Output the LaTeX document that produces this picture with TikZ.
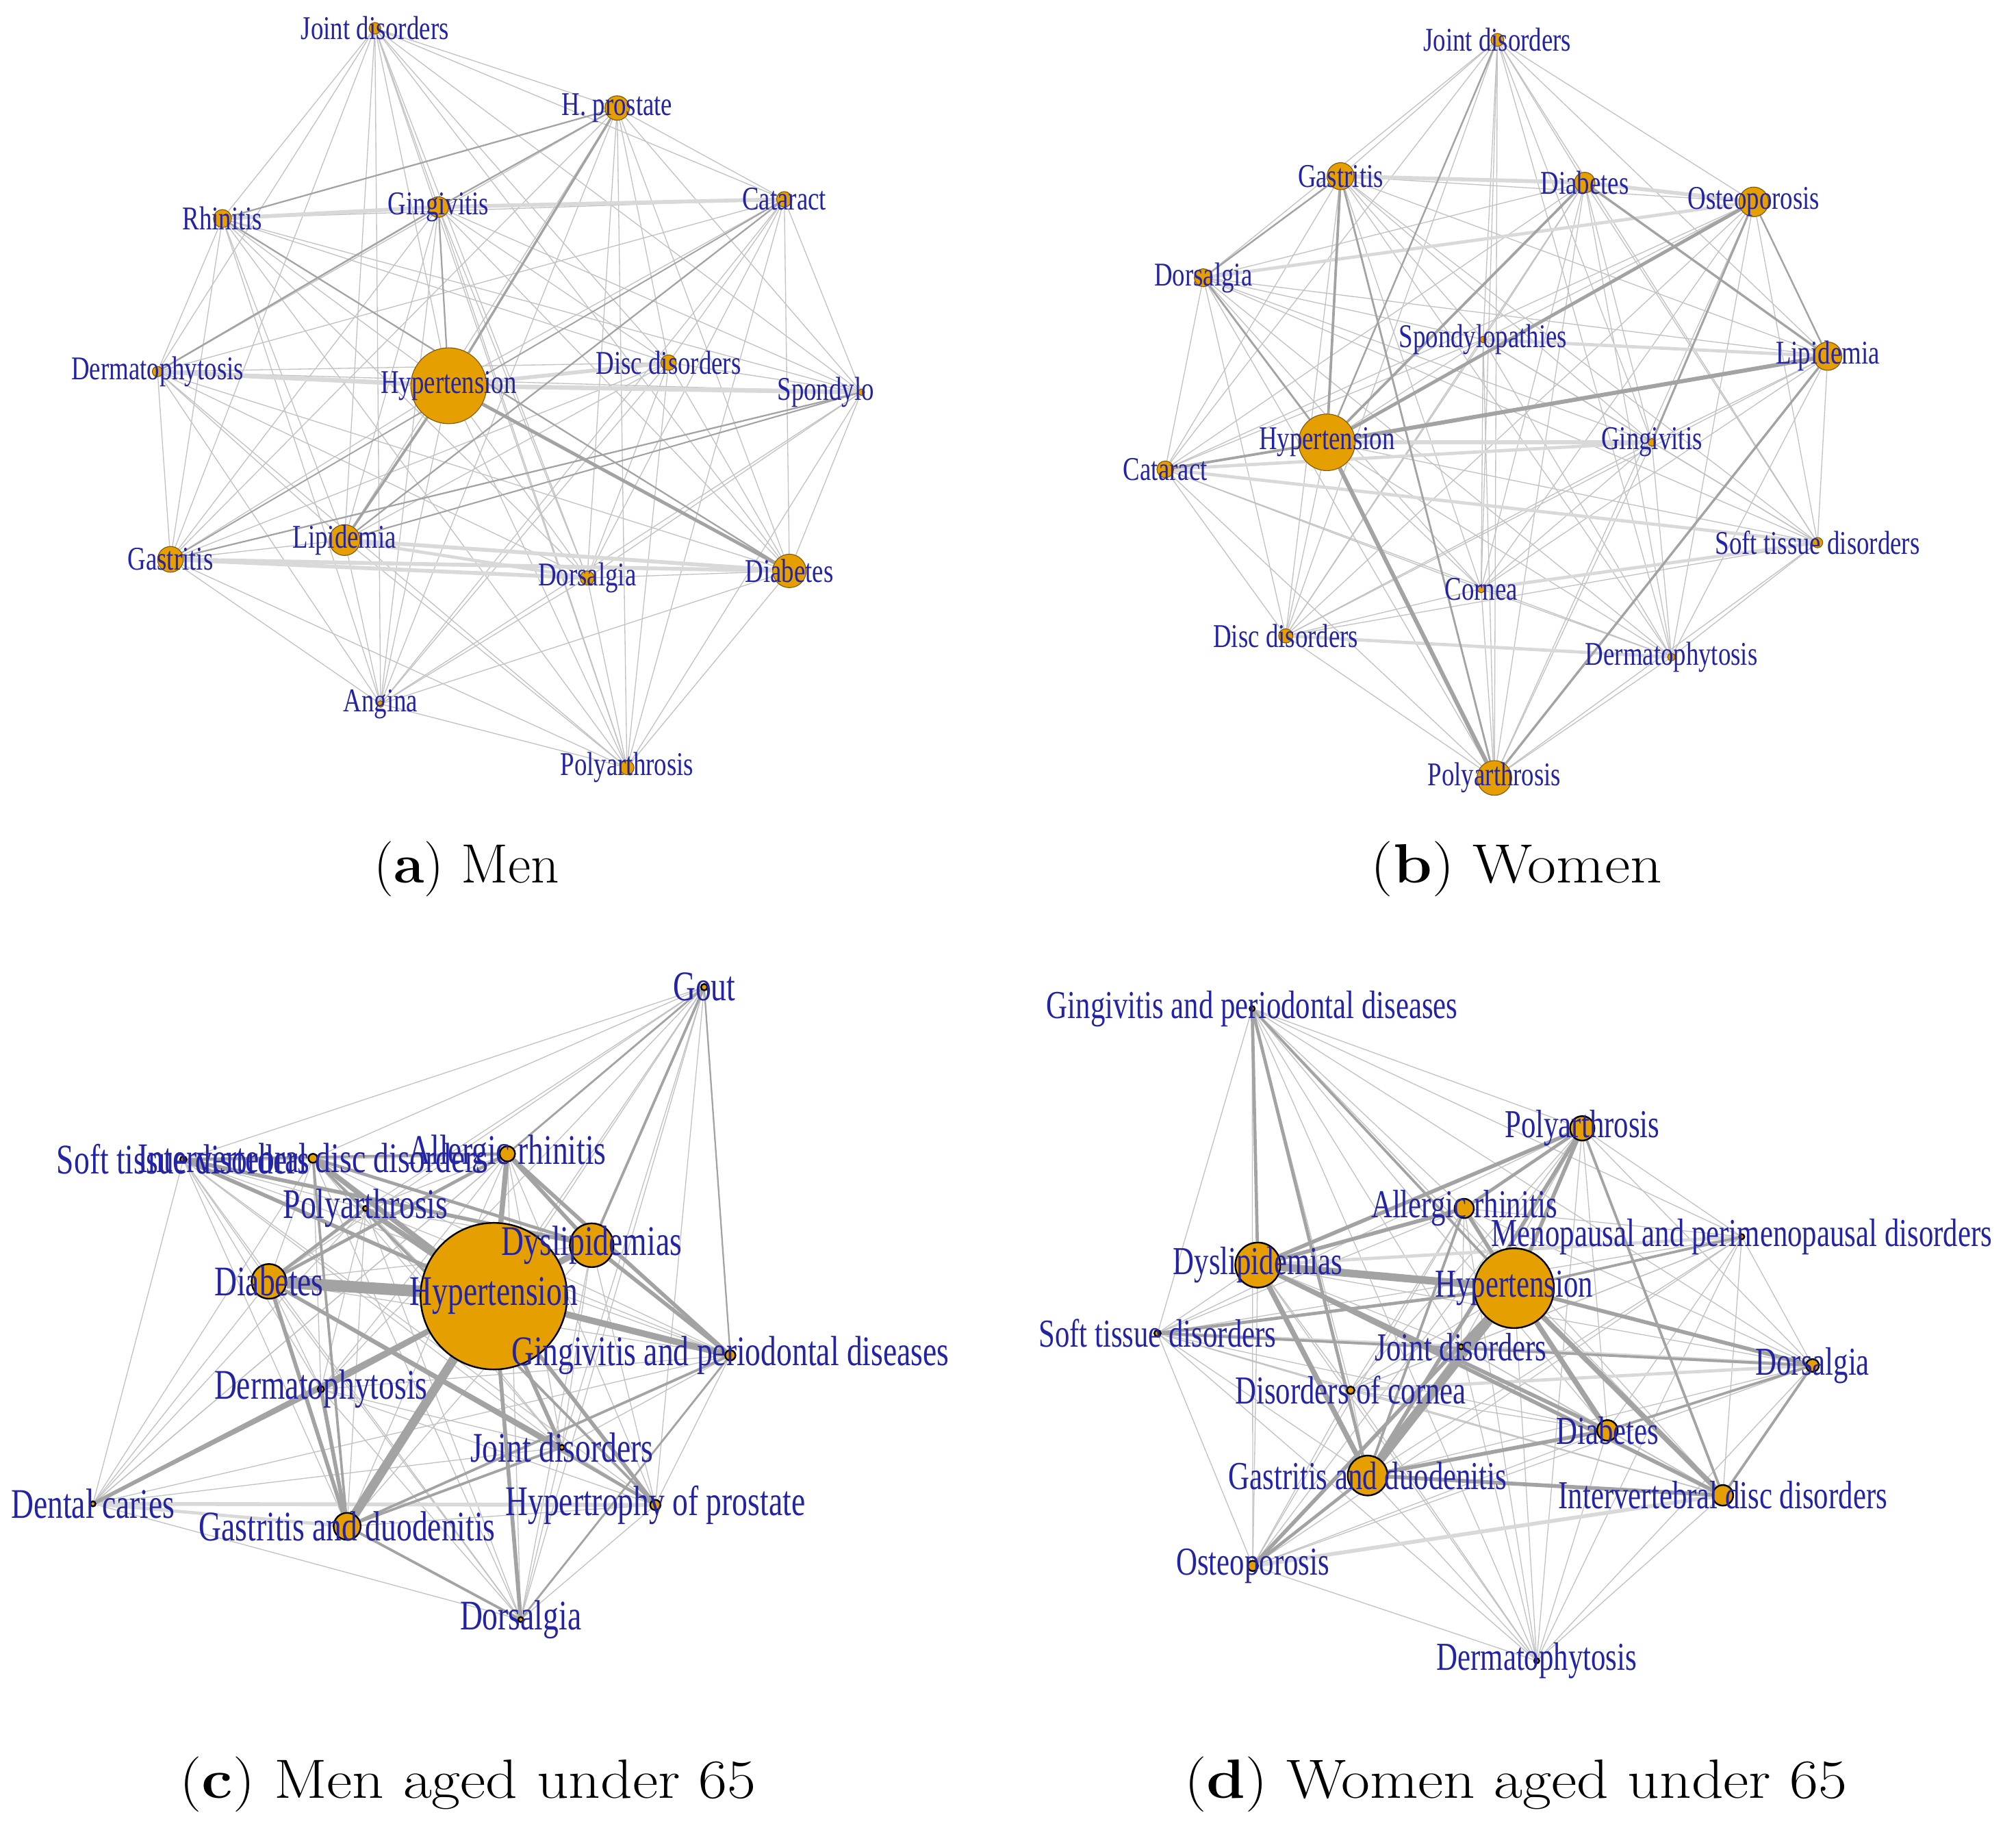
\documentclass[tikz,border=0pt]{standalone}
\usepackage{graphicx}
\usepackage{fontspec}
\newfontfamily\lblfont[FakeStretch=0.76]{Liberation Serif}
\newfontfamily\lblfontc[FakeStretch=0.74]{Liberation Serif}
\newfontfamily\capfont[FakeStretch=1.13]{Latin Modern Roman}
\definecolor{nodeor}{RGB}{230,159,0}
\definecolor{lblblue}{RGB}{35,35,165}
\pgfdeclarelayer{edges}
\pgfdeclarelayer{bg}
\pgfsetlayers{bg,edges,main}
\newcommand\mkcomplete[2]{%
  \foreach \u [count=\i] in {#1} {
    \foreach \v [count=\j] in {#1} {
      \ifnum\j>\i \draw[#2] (\u) -- (\v); \fi
    }
  }
}
\tikzset{
  vtxA/.style={circle, inner sep=0pt, fill=nodeor, draw=nodeor!55!black, line width=0.6pt},
  vtxC/.style={circle, inner sep=0pt, fill=nodeor, draw=black, line width=1.3pt},
  lblA/.style={font=\lblfont\fontsize{25.8}{30}\selectfont, text=lblblue, inner sep=0pt},
  lblC/.style={font=\lblfontc\fontsize{32.8}{36}\selectfont, text=lblblue, inner sep=0pt},
  lblD/.style={font=\lblfontc\fontsize{30.8}{35}\selectfont, text=lblblue, inner sep=0pt},
  thinedge/.style={draw=gray!48, line width=0.7pt},
  heavyedge/.style={draw=gray!72},
  wideedge/.style={draw=gray!30},
  captxt/.style={font=\capfont\fontsize{43}{50}\selectfont, inner sep=0pt, anchor=base}
}
\begin{document}
\begin{tikzpicture}[x=1pt,y=-1pt]
\useasboundingbox (0,0) rectangle (1568,1423);
\begin{pgfonlayer}{bg}
\fill[white] (0,0) rectangle (1568,1423);
\end{pgfonlayer}

% ---------------- (a) Men ----------------
\foreach \n/\x/\y/\r in {aJoi/291.6/22/4.5, aHpr/480/84/9.5, aCat/610/155/6, aRhi/173/170/7,
  aGin/341/161/8, aDer/122.5/289/4, aHyp/349/300/29.5, aDis/520/282/6, aSpo/670/305/2.5,
  aGas/132.6/435/10, aLip/268/420/12, aDor/456.7/449.5/5.5, aDia/614/444/13,
  aAng/296/547.5/2.5, aPol/487.6/597/5.5}
  \node[vtxA, minimum size={2*\r*1pt}] (\n) at (\x,\y) {};
\foreach \n/\t in {aJoi/Joint disorders, aHpr/H. prostate, aCat/Cataract, aRhi/Rhinitis,
  aGin/Gingivitis, aDer/Dermatophytosis, aHyp/Hypertension, aDis/Disc disorders,
  aGas/Gastritis, aLip/Lipidemia, aDor/Dorsalgia, aDia/Diabetes, aAng/Angina, aPol/Polyarthrosis}
  \node[lblA] (\n-l) at (\n.center) {\t};
\begin{scope}
  \clip (0,0) rectangle (679,700);
  \node[lblA] (aSpo-l) at (aSpo.center) {Spondylopathies};
\end{scope}
\begin{pgfonlayer}{edges}
  \mkcomplete{aJoi,aHpr,aCat,aRhi,aGin,aDer,aHyp,aDis,aSpo,aGas,aLip,aDor,aDia,aAng,aPol}{thinedge}
  \foreach \u/\v/\w in {aRhi/aGin/3, aGin/aCat/3, aDer/aHyp/3.5, aHyp/aDis/3, aHyp/aSpo/3.5,
    aGas/aDia/3, aGas/aDor/3, aLip/aDia/3, aLip/aDor/2.5}
    \draw[wideedge, line width=\w pt] (\u) -- (\v);
  \foreach \u/\v/\w in {aHyp/aDia/2.6, aHyp/aHpr/1.8, aHyp/aLip/2, aHyp/aGin/1.2, aHpr/aRhi/1.2,
    aGin/aDer/1.3, aCat/aLip/1.2, aCat/aGas/1.0, aSpo/aGas/1.2, aSpo/aLip/1.1, aHpr/aGin/1.2,
    aRhi/aDia/1.2}
    \draw[heavyedge, line width=\w pt] (\u) -- (\v);
\end{pgfonlayer}
\node[captxt] (capA) at (363,686.5) {\scalebox{0.89}[1]{(\textbf{a}) Men}};

% ---------------- (b) Women ----------------
\foreach \n/\x/\y/\r in {bJoi/1164.6/31/5, bGas/1042.7/137/10.5, bDia/1232.5/142/8,
  bOst/1364/157/11.5, bDor/935.9/216/7, bSpo/1153.5/264/2.5, bLip/1421.5/277/11,
  bHyp/1032/344/22, bGin/1284.7/344/3, bCat/906.3/365/6.5, bSof/1413.6/422/4,
  bCor/1152/458/3, bDis/1000/494.5/5.5, bDer/1300/511/3, bPol/1162.3/605/13.5}
  \node[vtxA, minimum size={2*\r*1pt}] (\n) at (\x,\y) {};
\foreach \n/\t in {bJoi/Joint disorders, bGas/Gastritis, bDia/Diabetes, bOst/Osteoporosis,
  bDor/Dorsalgia, bSpo/Spondylopathies, bLip/Lipidemia, bHyp/Hypertension, bGin/Gingivitis,
  bCat/Cataract, bSof/Soft tissue disorders, bCor/Cornea, bDis/Disc disorders,
  bDer/Dermatophytosis, bPol/Polyarthrosis}
  \node[lblA] (\n-l) at (\n.center) {\t};
\begin{pgfonlayer}{edges}
  \mkcomplete{bJoi,bGas,bDia,bOst,bDor,bSpo,bLip,bHyp,bGin,bCat,bSof,bCor,bDis,bDer,bPol}{thinedge}
  \foreach \u/\v/\w in {bGas/bDia/3, bDia/bOst/3, bHyp/bGin/3, bSpo/bLip/2.5, bCat/bSof/2.5,
    bDis/bDer/2.5, bCor/bSof/2.5, bDor/bOst/2.5, bCat/bGin/2.5}
    \draw[wideedge, line width=\w pt] (\u) -- (\v);
  \foreach \u/\v/\w in {bHyp/bPol/3.2, bHyp/bLip/3.2, bHyp/bOst/2.6, bHyp/bDia/2, bHyp/bGas/2,
    bHyp/bCat/2, bDia/bLip/1.8, bOst/bGin/1.6, bLip/bPol/1.8, bGas/bPol/1.5, bDor/bHyp/1.5,
    bHyp/bJoi/1.3, bGas/bDor/1.3, bOst/bLip/1.3}
    \draw[heavyedge, line width=\w pt] (\u) -- (\v);
\end{pgfonlayer}
\node[captxt] (capB) at (1179.5,686.5) {(\textbf{b}) Women};

% ---------------- (c) Men aged under 65 ----------------
\foreach \n/\x/\y/\r in {cGou/547.7/767.7/2.5, cSof/142.6/901.7/2.5, cInt/243.4/900.8/3.5,
  cAll/394.6/897.3/6, cPol/284.3/939.8/2, cDys/460.2/968.4/17, cDia/209.2/996.5/13.5,
  cHyp/384.1/1008/57, cGin/568/1054/4, cDer/249.6/1080.4/2.5, cJoi/437/1125.6/2,
  cDen/72.3/1169.5/2, cHpr/509.7/1170.4/4, cGas/270/1187/10.5, cDor/405/1259.5/2}
  \node[vtxC, minimum size={2*\r*1pt}] (\n) at (\x,\y) {};
\foreach \n/\t in {cGou/Gout, cSof/Soft tissue disorders, cInt/Intervertebral disc disorders,
  cAll/Allergic rhinitis, cPol/Polyarthrosis, cDys/Dyslipidemias, cDia/Diabetes,
  cHyp/Hypertension, cGin/Gingivitis and periodontal diseases, cDer/Dermatophytosis,
  cJoi/Joint disorders, cDen/Dental caries, cHpr/Hypertrophy of prostate,
  cGas/Gastritis and duodenitis, cDor/Dorsalgia}
  \node[lblC] (\n-l) at (\n.center) {\t};
\begin{pgfonlayer}{edges}
  \mkcomplete{cGou,cSof,cInt,cAll,cPol,cDys,cDia,cHyp,cGin,cDer,cJoi,cDen,cHpr,cGas,cDor}{thinedge}
  \foreach \u/\v/\w in {cDen/cHpr/3, cDen/cGas/2.5, cSof/cInt/3, cInt/cAll/3}
    \draw[wideedge, line width=\w pt] (\u) -- (\v);
  \foreach \u/\v/\w in {cHyp/cDia/9, cHyp/cGas/7, cHyp/cDys/5, cHyp/cGin/5, cHyp/cAll/4,
    cHyp/cInt/4, cHyp/cPol/4, cHyp/cSof/3, cHyp/cDer/4, cHyp/cJoi/3, cHyp/cHpr/3,
    cHyp/cDen/3, cHyp/cDor/3, cDia/cGas/3, cDia/cAll/2.5, cDia/cPol/2.5, cDia/cJoi/2.5,
    cDia/cHpr/2.5, cDys/cAll/3, cDys/cGin/3, cDys/cInt/2.5, cDys/cGou/2, cAll/cGin/3,
    cAll/cSof/2, cGas/cDer/3, cGas/cDor/2, cGas/cJoi/2, cGas/cGin/2, cSof/cDys/3,
    cInt/cHpr/2, cGin/cDor/1.5, cAll/cGou/1.5, cGin/cGou/1.2, cDen/cDer/2, cInt/cGas/2}
    \draw[heavyedge, line width=\w pt] (\u) -- (\v);
\end{pgfonlayer}
\node[captxt] (capC) at (364,1398.5) {(\textbf{c}) Men aged under 65};

% ---------------- (d) Women aged under 65 ----------------
\foreach \n/\x/\y/\r in {dGin/973.9/784.4/2, dPol/1230.6/877.5/9.5, dAll/1138.8/939.8/7.5,
  dMen/1354.7/961.8/2, dDys/978.3/983.8/17.5, dHyp/1177.6/1001.8/31, dSof/900.3/1036.9/2.5,
  dJoi/1136.3/1047.4/2, dCor/1050.5/1081.2/3, dDor/1409.7/1061.9/5, dDia/1250.2/1112.4/8,
  dGas/1063.7/1147.5/15.5, dInt/1340/1162.9/8, dOst/974.4/1217.8/4, dDer/1195.2/1291.6/2}
  \node[vtxC, minimum size={2*\r*1pt}] (\n) at (\x,\y) {};
\foreach \n/\t in {dGin/Gingivitis and periodontal diseases, dPol/Polyarthrosis,
  dAll/Allergic rhinitis, dMen/Menopausal and perimenopausal disorders, dDys/Dyslipidemias,
  dHyp/Hypertension, dSof/Soft tissue disorders, dJoi/Joint disorders,
  dCor/Disorders of cornea, dDor/Dorsalgia, dDia/Diabetes, dGas/Gastritis and duodenitis,
  dInt/Intervertebral disc disorders, dOst/Osteoporosis, dDer/Dermatophytosis}
  \node[lblD] (\n-l) at (\n.center) {\t};
\begin{pgfonlayer}{edges}
  \mkcomplete{dGin,dPol,dAll,dMen,dDys,dHyp,dSof,dJoi,dCor,dDor,dDia,dGas,dInt,dOst,dDer}{thinedge}
  \foreach \u/\v/\w in {dSof/dJoi/3, dJoi/dDor/3, dCor/dDor/2.5, dMen/dDys/2.5, dOst/dInt/3}
    \draw[wideedge, line width=\w pt] (\u) -- (\v);
  \foreach \u/\v/\w in {dHyp/dDys/6, dHyp/dGas/7, dDys/dGas/4, dHyp/dDia/4, dHyp/dInt/4,
    dHyp/dPol/3, dHyp/dDor/3, dHyp/dAll/3, dHyp/dJoi/3, dHyp/dOst/3, dHyp/dSof/2.5,
    dDys/dPol/3, dDys/dAll/3, dDys/dDia/3, dDys/dInt/3, dGas/dPol/3, dGas/dInt/3,
    dGas/dDia/3, dGas/dOst/2.5, dPol/dAll/2.5, dGin/dDys/2.5, dGin/dGas/2.5, dGin/dHyp/2,
    dDia/dDor/2, dInt/dDor/2, dSof/dDor/2, dMen/dHyp/2, dPol/dInt/2, dAll/dGas/2}
    \draw[heavyedge, line width=\w pt] (\u) -- (\v);
\end{pgfonlayer}
\node[captxt] (capD) at (1179,1398.5) {(\textbf{d}) Women aged under 65};
\end{tikzpicture}
\end{document}
